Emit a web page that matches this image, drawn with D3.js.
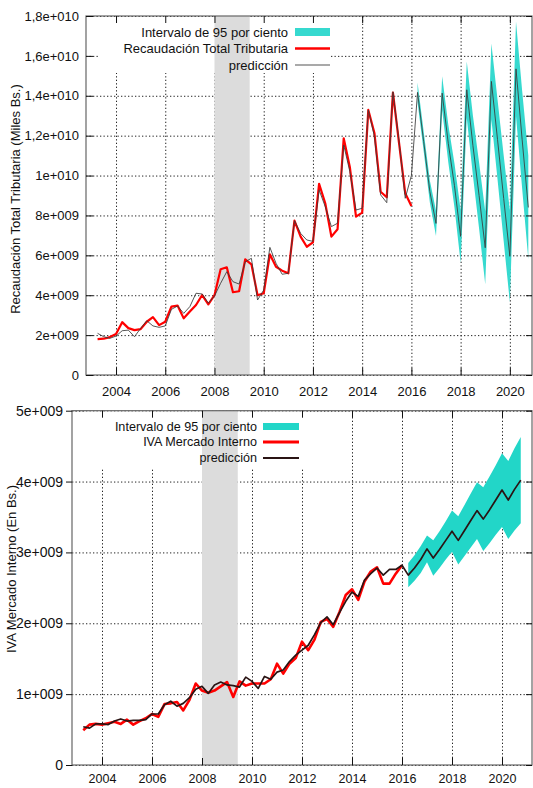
<!DOCTYPE html>
<html>
<head>
<meta charset="utf-8">
<script src="https://cdn.jsdelivr.net/npm/d3@7"></script>
<style>
  html, body { margin: 0; padding: 0; background: #fff; }
  svg { display: block; }
  text { font-family: "Liberation Sans", Arial, sans-serif; fill: #111; }
</style>
</head>
<body>
<svg id="chart" width="533" height="788"></svg>
<script>
// ---- Recaudación total tributaria (miles de Bs., en miles de millones) ----
// quarterly, first observation 2003 Q2 (plotted at 2003.25)
const startYear = 2003.25;
const topObserved = [1.80,1.82,1.90,2.05, 2.65,2.35,2.25,2.30, 2.67,2.90,2.50,2.67,
  3.43,3.48,2.84,3.18, 3.51,4.01,3.54,4.00, 5.30,5.40,4.15,4.20, 5.80,5.55,4.00,4.10,
  6.05,5.43,5.23,5.10, 7.74,6.94,6.43,6.65, 9.58,8.61,6.94,7.31, 11.87,10.42,7.94,8.14,
  13.29,12.12,9.19,8.91, 14.16,11.62,9.11,8.47];
const topPredicted = [2.09,1.92,1.84,1.95, 2.22,2.25,1.92,2.34, 2.72,2.46,2.39,2.46,
  3.29,3.46,3.09,3.43, 4.10,4.06,3.60,3.96, 4.60,5.18,4.68,4.56, 5.68,5.85,3.76,4.26,
  6.40,5.60,5.05,5.10, 7.74,7.10,6.77,6.70, 9.28,8.44,7.44,7.61, 11.53,10.20,8.27,8.36,
  13.29,11.95,9.03,8.64, 14.20,11.70,8.86,10.00,
  14.17,11.70,9.20,7.60, 14.13,11.60,9.50,6.95, 14.30,11.50,9.00,6.38,
  14.72,11.80,8.85,5.95, 15.35,11.80,8.40];
const topUpper = [14.67,12.20,9.75,8.23, 14.98,12.55,10.60,8.27, 15.72,13.00,10.65,8.21,
  16.62,13.80,11.00,8.25, 17.72,14.25,11.00];
const topLower = [13.67,11.20,8.65,6.97, 13.28,10.65,8.40,5.63, 12.88,10.00,7.35,4.55,
  12.82,9.80,6.70,3.65, 12.98,9.35,5.80];
const forecastStart = 2016.25;
const topYTicks = [0,2,4,6,8,10,12,14,16,18];
const topYLabels = ["0","2e+009","4e+009","6e+009","8e+009","1e+010","1,2e+010","1,4e+010","1,6e+010","1,8e+010"];
const yearTicks = [2004,2006,2008,2010,2012,2014,2016,2018,2020];
const recession = [2008.0, 2009.43];

// ---- IVA Mercado Interno (en Bs., en miles de millones) ----
const ivaObserved = [0.49,0.57,0.58,0.57, 0.59,0.61,0.58,0.64, 0.57,0.62,0.66,0.72,
  0.68,0.86,0.87,0.89, 0.77,0.92,1.15,1.05, 1.02,1.05,1.11,1.17, 0.96,1.18,1.12,1.15,
  1.15,1.15,1.21,1.43, 1.29,1.43,1.51,1.74, 1.62,1.77,2.02,2.06, 1.95,2.16,2.40,2.48,
  2.33,2.59,2.73,2.79, 2.56,2.56,2.70,2.82];
const ivaPredicted = [0.54,0.52,0.58,0.58, 0.57,0.62,0.65,0.62, 0.63,0.63,0.64,0.72,
  0.72,0.85,0.90,0.83, 0.87,0.95,1.07,1.11, 1.01,1.13,1.17,1.13, 1.12,1.10,1.24,1.18,
  1.08,1.25,1.21,1.31, 1.34,1.46,1.55,1.62, 1.69,1.84,2.01,2.09, 1.98,2.15,2.31,2.44,
  2.38,2.61,2.70,2.78, 2.68,2.76,2.76,2.82,
  2.68,2.78,2.90,3.05, 2.92,3.04,3.17,3.30, 3.17,3.31,3.45,3.59,
  3.47,3.60,3.74,3.88, 3.74,3.89,4.02];
const ivaUpper = [2.85,2.96,3.09,3.24, 3.17,3.30,3.44,3.59, 3.51,3.67,3.83,3.99,
  3.92,4.07,4.23,4.40, 4.29,4.47,4.63];
const ivaLower = [2.51,2.60,2.71,2.86, 2.67,2.78,2.90,3.01, 2.83,2.95,3.07,3.19,
  3.02,3.13,3.25,3.36, 3.19,3.31,3.41];
const ivaYTicks = [0,1,2,3,4,5];
const ivaYLabels = ["0","1e+009","2e+009","3e+009","4e+009","5e+009"];

const qt = i => startYear + i * 0.25;
const ft = i => forecastStart + i * 0.25;

const svg = d3.select("#chart");

function panel(cfg) {
  const { x, y, yTicks, yLabels, observed, predicted, upper, lower, legend } = cfg;
  const [x0, x1] = x.range();
  const [y0, y1] = y.range();
  const g = svg.append("g");

  // grid
  const grid = g.append("g").attr("class", "grid");
  grid.append("g").attr("transform", `translate(0,${y0})`)
    .call(d3.axisBottom(x).tickValues(yearTicks).tickSize(-(y0 - y1)).tickFormat(""))
    .call(s => s.select(".domain").remove());
  grid.append("g").attr("transform", `translate(${x0},0)`)
    .call(d3.axisLeft(y).tickValues(yTicks).tickSize(-(x1 - x0)).tickFormat(""))
    .call(s => s.select(".domain").remove());
  grid.selectAll("line").attr("stroke", "#222").attr("stroke-width", 1)
    .attr("stroke-dasharray", cfg.dash);

  // legend backing
  g.append("rect").attr("x", legend.box[0]).attr("y", legend.box[1])
    .attr("width", legend.box[2]).attr("height", legend.box[3]).attr("fill", "#fff");

  // recession band
  g.append("rect").attr("x", x(recession[0])).attr("y", y1)
    .attr("width", x(recession[1]) - x(recession[0])).attr("height", y0 - y1)
    .attr("fill", "#dcdcdc");

  // 95% interval
  const area = d3.area().x((d, i) => x(ft(i))).y0((d, i) => y(lower[i])).y1(d => y(d));
  g.append("path").datum(upper).attr("d", area).attr("fill", cfg.teal);

  // observed series
  const line = d3.line().x((d, i) => x(qt(i))).y(d => y(d));
  g.append("path").datum(observed).attr("d", line).attr("fill", "none")
    .attr("stroke", "#ff0000").attr("stroke-width", cfg.redWidth).attr("stroke-linejoin", "round");
  // prediction
  g.append("path").datum(predicted).attr("d", line).attr("fill", "none")
    .attr("stroke", cfg.predColor).attr("stroke-width", cfg.predWidth)
    .attr("stroke-opacity", cfg.predOpacity).attr("stroke-linejoin", "round");

  // legend
  const lg = g.append("g").attr("font-size", cfg.legendSize);
  legend.rows.forEach((r, i) => {
    const cy = legend.rowY[i];
    lg.append("text").attr("x", legend.textX).attr("y", cy).attr("dy", "0.35em")
      .attr("text-anchor", "end").text(r.label);
    if (r.kind === "area") {
      lg.append("rect").attr("x", legend.sample[0]).attr("y", cy - legend.boxH / 2)
        .attr("width", legend.sample[1] - legend.sample[0]).attr("height", legend.boxH)
        .attr("fill", cfg.teal);
    } else {
      lg.append("line").attr("x1", legend.sample[0]).attr("x2", legend.sample[1])
        .attr("y1", cy).attr("y2", cy).attr("stroke", r.color).attr("stroke-width", r.width);
    }
  });

  // frame
  g.append("rect").attr("x", x0).attr("y", y1).attr("width", x1 - x0).attr("height", y0 - y1)
    .attr("fill", "none").attr("stroke", "#666").attr("stroke-width", 1.2);

  // axes
  const xb = g.append("g").attr("transform", `translate(0,${y0})`)
    .call(d3.axisBottom(x).tickValues(yearTicks).tickSize(-7).tickPadding(cfg.xPad).tickFormat(d3.format("d")));
  const xt = g.append("g").attr("transform", `translate(0,${y1})`)
    .call(d3.axisTop(x).tickValues(yearTicks).tickSize(-7).tickFormat(""));
  const yl = g.append("g").attr("transform", `translate(${x0},0)`)
    .call(d3.axisLeft(y).tickValues(yTicks).tickSize(cfg.yTickSize).tickPadding(cfg.yPad)
      .tickFormat((d, i) => yLabels[i]));
  const yr = g.append("g").attr("transform", `translate(${x1},0)`)
    .call(d3.axisRight(y).tickValues(yTicks).tickSize(-6).tickFormat(""));
  [xb, xt, yl, yr].forEach(a => {
    a.select(".domain").remove();
    a.selectAll("line").attr("stroke", "#111").attr("stroke-width", 1);
    a.selectAll("text").attr("fill", "#111").attr("font-size", cfg.xFontSize)
      .attr("font-family", "'Liberation Sans', Arial, sans-serif");
  });
  yl.selectAll("text").attr("font-family", cfg.yFont).attr("font-size", cfg.yFontSize);

  // axis title
  g.append("text").attr("transform", `translate(${cfg.titleX},${cfg.titleY}) rotate(-90)`)
    .attr("text-anchor", "middle").attr("font-size", 13).text(cfg.title);
}

panel({
  x: d3.scaleLinear().domain([2002.78, 2020.9]).range([86, 532]),
  y: d3.scaleLinear().domain([0, 18]).range([375, 16]),
  yTicks: topYTicks, yLabels: topYLabels,
  observed: topObserved, predicted: topPredicted, upper: topUpper, lower: topLower,
  teal: "#36d9cf", dash: "1.3,2.2", redWidth: 2.2,
  predColor: "#3a3a3a", predWidth: 1, predOpacity: 0.85,
  yTickSize: -7, yPad: 7, yFont: "'Liberation Sans', Arial, sans-serif", yFontSize: 13,
  xPad: 12, xFontSize: 13,
  title: "Recaudación Total Tributaria (Miles Bs.)", titleX: 20, titleY: 199,
  legendSize: 13,
  legend: {
    box: [98, 17, 233, 56], textX: 288, rowY: [32, 48.5, 65], sample: [295, 330], boxH: 8,
    rows: [
      { label: "Intervalo de 95 por ciento", kind: "area" },
      { label: "Recaudación Total Tributaria", kind: "line", color: "#ff0000", width: 2.5 },
      { label: "predicción", kind: "line", color: "#555", width: 1.2 }
    ]
  }
});

panel({
  x: d3.scaleLinear().domain([2002.8, 2021.2]).range([72, 532]),
  y: d3.scaleLinear().domain([0, 5]).range([765, 410.7]),
  yTicks: ivaYTicks, yLabels: ivaYLabels,
  observed: ivaObserved, predicted: ivaPredicted, upper: ivaUpper, lower: ivaLower,
  teal: "#22d6c8", dash: "1.3,2.2", redWidth: 2.6,
  predColor: "#2a1414", predWidth: 1.7, predOpacity: 1,
  yTickSize: 6, yPad: 3, yFont: "'Liberation Serif', 'Times New Roman', serif", yFontSize: 14,
  xPad: 9, xFontSize: 12.5,
  title: "IVA Mercado Interno (En Bs.)", titleX: 16, titleY: 569,
  legendSize: 12.6,
  legend: {
    box: [84, 411.5, 221, 57], textX: 257, rowY: [426.5, 442, 458], sample: [263, 299], boxH: 7,
    rows: [
      { label: "Intervalo de 95 por ciento", kind: "area" },
      { label: "IVA Mercado Interno", kind: "line", color: "#ff0000", width: 3 },
      { label: "predicción", kind: "line", color: "#2a1414", width: 2 }
    ]
  }
});
</script>
</body>
</html>
